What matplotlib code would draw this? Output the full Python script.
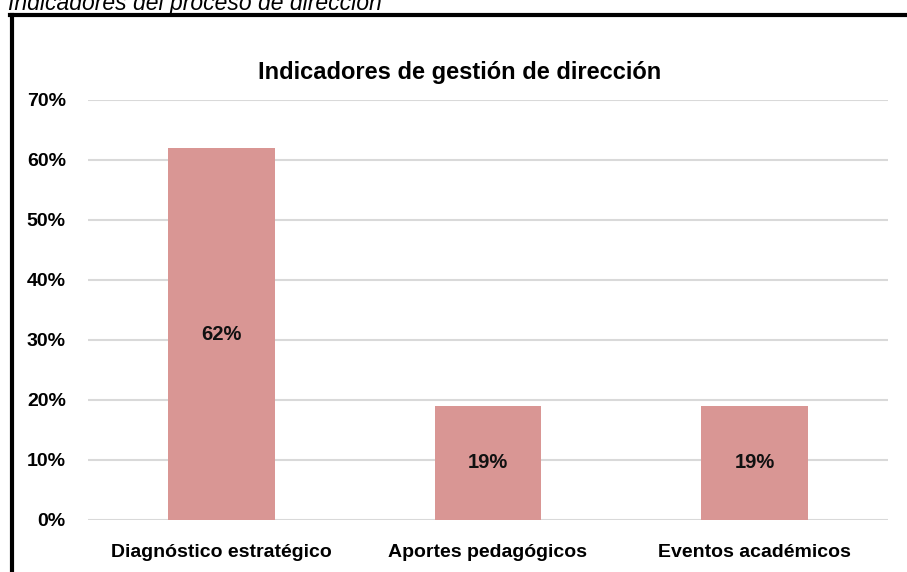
import matplotlib
matplotlib.use("Agg")
import matplotlib.pyplot as plt
from matplotlib.lines import Line2D
from matplotlib import font_manager

categories = ["Diagnóstico estratégico", "Aportes pedagógicos", "Eventos académicos"]
values = [0.62, 0.19, 0.19]
bar_labels = ["62%", "19%", "19%"]
yticks = [0, 0.1, 0.2, 0.3, 0.4, 0.5, 0.6, 0.7]
ytick_labels = ["0%", "10%", "20%", "30%", "40%", "50%", "60%", "70%"]

names = {f.name for f in font_manager.fontManager.ttflist}
narrow = "Liberation Sans Narrow" if "Liberation Sans Narrow" in names else "Liberation Sans"
plt.rcParams["font.family"] = [narrow, "DejaVu Sans"]

W, H = 907, 572
fig = plt.figure(figsize=(W / 100, H / 100), dpi=100)
ax = fig.add_axes([88 / W, 1 - 520 / H, 800 / W, 420 / H])

x = range(len(categories))
ax.bar(x, values, width=0.4, color="#D99694", zorder=3)
for i, v in enumerate(values):
    ax.text(i, v / 2, bar_labels[i], ha="center", va="center",
            fontsize=14.5, fontweight="bold", color="#111111", zorder=4)

ax.set_xlim(-0.5, len(categories) - 0.5)
ax.set_ylim(0, 0.7)
ax.set_yticks(yticks)
ax.set_yticklabels(ytick_labels, fontsize=14, fontweight="bold")
ax.set_xticks(list(x))
ax.set_xticklabels(categories, fontsize=14, fontweight="bold")
ax.tick_params(axis="y", length=0, pad=16)
ax.tick_params(axis="x", length=0, pad=17)
ax.grid(axis="y", color="#D9D9D9", linewidth=1.5, zorder=0)
for s in ax.spines.values():
    s.set_visible(False)

fig.text(460 / W, 1 - 72 / H, "Indicadores de gestión de dirección", ha="center",
         va="center", fontsize=17, fontweight="bold")

# caption above the frame, partly cut off as in the source
fig.text(8 / W, 1 - 10 / H, "Indicadores del proceso de dirección", ha="left",
         va="baseline", fontsize=16.5, fontstyle="italic")

# thick frame lines (left and top)
fig.add_artist(Line2D([11.5 / W, 11.5 / W], [0, 1 - 14.5 / H], color="black",
                      linewidth=3, transform=fig.transFigure))
fig.add_artist(Line2D([10 / W, 1], [1 - 14.5 / H, 1 - 14.5 / H], color="black",
                      linewidth=3, transform=fig.transFigure))

fig.savefig("out.png", dpi=100)
